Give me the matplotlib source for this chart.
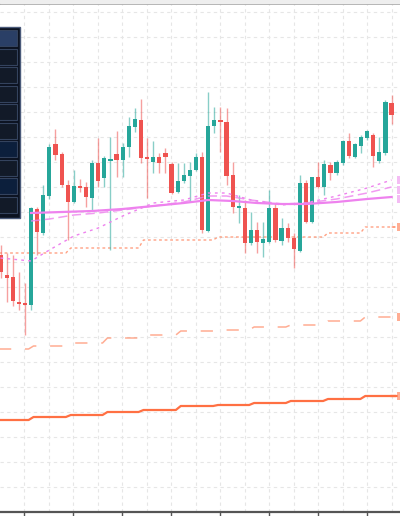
import matplotlib
matplotlib.use("Agg")
import matplotlib.pyplot as plt
from matplotlib.patches import Rectangle

# candles, in screen units (y grows downward): body top/bottom, wick top/bottom, rising?
body_top = [255, 275, 277, 302, 303, 208, 209, 195, 147, 144, 154, 185, 186, 186, 187, 163,
            163, 158, 159, 154, 147, 126, 119, 120, 157, 157, 157, 153, 164, 181, 175, 170,
            157, 157, 126, 120, 120, 122, 175, 206, 208, 230, 230, 239, 208, 208, 228, 228,
            238, 183, 183, 177, 177, 164, 165, 162, 141, 141, 144, 137, 131, 135, 152, 102, 103]
body_bot = [272, 278, 301, 304, 305, 305, 232, 233, 196, 155, 185, 202, 202, 188, 197, 198,
            181, 178, 161, 160, 160, 147, 127, 158, 159, 162, 163, 157, 193, 192, 181, 176,
            170, 230, 231, 126, 122, 176, 207, 208, 243, 243, 242, 243, 242, 240, 241, 238,
            249, 251, 222, 222, 187, 187, 173, 173, 163, 156, 157, 146, 138, 156, 161, 153, 115]
wick_top = [245, 253, 255, 272, 283, 207, 207, 185, 144, 129, 152, 180, 170, 179, 182, 160,
            138, 156, 137, 131, 143, 117, 108, 99, 138, 141, 153, 148, 162, 163, 163, 162,
            153, 152, 92, 107, 107, 108, 162, 195, 200, 212, 222, 222, 190, 203, 218, 223,
            233, 175, 180, 177, 162, 160, 162, 160, 140, 133, 143, 135, 130, 133, 137, 100, 95]
wick_bot = [278, 302, 306, 310, 335, 310, 255, 235, 199, 160, 187, 240, 203, 192, 207, 210,
            187, 187, 250, 177, 177, 157, 132, 163, 198, 173, 173, 173, 194, 193, 183, 202,
            171, 233, 232, 133, 152, 185, 213, 223, 253, 245, 253, 257, 243, 242, 245, 242,
            268, 252, 223, 223, 188, 195, 180, 175, 165, 158, 158, 153, 140, 167, 163, 155, 124]
rising = [0, 0, 0, 0, 0, 1, 0, 1, 1, 0, 0, 0, 1, 0, 0, 1,
          0, 1, 1, 0, 1, 1, 1, 0, 0, 1, 0, 0, 0, 1, 1, 1,
          1, 0, 1, 1, 0, 0, 0, 1, 0, 1, 0, 1, 1, 0, 1, 0,
          0, 1, 0, 1, 0, 1, 0, 1, 1, 0, 1, 1, 1, 0, 1, 1, 0]

# moving averages (candle index, screen y)
ma_fast_i = [5, 10, 15, 20, 25, 30, 34, 38, 42, 46, 50, 55, 60, 64]
ma_fast_y = [213, 212, 211, 209, 206, 203, 200, 201, 203, 204, 204, 202, 199, 197]
ma_mid_i = [5, 8, 12, 16, 20, 25, 30, 34, 37, 41, 46, 50, 55, 60, 64]
ma_mid_y = [221, 219, 215, 213, 210, 206, 202, 196, 196, 200, 204, 203, 199, 193, 187]
ma_slow_i = [0, 5, 8, 12, 16, 20, 25, 30, 34, 37, 41, 46, 50, 55, 60, 64]
ma_slow_y = [258, 261, 250, 236, 228, 216, 203, 200, 193, 193, 200, 205, 203, 196, 188, 180]

# stepped bands, one level per 6-candle block
step_i = [-0.5, 4.6, 10.7, 16.7, 22.6, 28.7, 34.8, 40.7, 46.7, 52.8, 58.9, 64]
band_dot = [253, 253, 248, 248, 240, 240, 237, 237, 237, 233, 227, 227]
band_dash = [349, 346, 343, 338, 335, 331, 330, 327, 325, 321, 317, 317]
band_solid = [420, 417, 415, 412, 410, 406, 405, 403, 401, 399, 396, 396]

RED, GREEN = "#ef5350", "#26a69a"
PX0, STEP = 0.5, 6.11

fig = plt.figure(figsize=(4, 5.16), dpi=100)
fig.patches.append(Rectangle((0, 1 - 3 / 516), 1, 3 / 516, transform=fig.transFigure,
                             color="#eeeeee", zorder=0))
ax = fig.add_axes([0, 4 / 516, 1, 508.5 / 516])
ax.set_xlim(0, 400)
ax.set_ylim(512, 3.5)


def px(i):
    return PX0 + STEP * i


def ramp(levels):
    # each level starts with a short slope from the previous one
    xs, ys = [], []
    for k, lv in enumerate(levels):
        start = px(step_i[k]) + (STEP * 0.8 if k else 0)
        end = px(step_i[k + 1]) if k + 1 < len(step_i) else px(step_i[k])
        xs += [start, end]
        ys += [lv, lv]
    return xs, ys


for i in range(len(body_top)):
    c = GREEN if rising[i] else RED
    x = px(i)
    ax.vlines(x, wick_top[i], wick_bot[i], color=c, alpha=0.55, lw=1, zorder=3)
    h = max(body_bot[i] - body_top[i], 1.5)
    ax.add_patch(Rectangle((x - 2.1, body_top[i]), 4.2, h, color=c, lw=0, zorder=4))

ax.plot([px(i) for i in ma_fast_i], ma_fast_y, color="#ee82ee", lw=1.6, zorder=5)
ax.plot([px(i) for i in ma_mid_i], ma_mid_y, color="#ee82ee", lw=1.1, ls=(0, (6, 3)), alpha=0.8, zorder=5)
ax.plot([px(i) for i in ma_slow_i], ma_slow_y, color="#ee82ee", lw=1, ls=(0, (2, 3)), zorder=5)

ax.plot(*ramp(band_dot), color="#ff8a65", lw=1, ls=(0, (2, 2)), alpha=0.8)
ax.plot(*ramp(band_dash), color="#ff8a65", lw=1.1, ls=(0, (8, 9)), alpha=0.7)
ax.plot(*ramp(band_solid), color="#ff7043", lw=1.6)

# price tags cut at the right edge
for y, c in [(180, "#f0a0f0"), (190, "#f0a0f0"), (199, "#f0a0f0"),
             (227, "#ff8a65"), (317, "#ff8a65"), (396, "#ff8a65")]:
    ax.add_patch(Rectangle((397, y - 4), 4, 8, color=c, alpha=0.7, lw=0, clip_on=False))

# grid
ax.set_xticks([24 + 49 * k for k in range(8)])
ax.set_xticks([48.5 + 49 * k for k in range(8)], minor=True)
ax.set_yticks([12 + 25 * k for k in range(20)])
ax.grid(True, which="both", color="#e6e6e6", ls=(0, (3, 3)), lw=0.8)
ax.set_axisbelow(True)
ax.tick_params(axis="x", which="major", length=4, width=1, color="#555555", labelbottom=False)
ax.tick_params(axis="x", which="minor", length=0)
ax.tick_params(axis="y", length=0, labelleft=False)
for s in ("left", "right"):
    ax.spines[s].set_visible(False)
ax.spines["bottom"].set_color("#555555")
ax.spines["bottom"].set_linewidth(1.6)
ax.spines["top"].set_color("#999999")
ax.spines["top"].set_linewidth(1.2)

# dark side panel
ax.add_patch(Rectangle((-2, 27), 22, 191, facecolor="#0b1220", edgecolor="#4a5a7a", lw=1, zorder=8))
row_colors = ["#2a3f66", "#121a28", "#121a28", "#121a28", "#121a28", "#121a28",
              "#0c1f3c", "#121a28", "#0c1f3c", "#121a28"]
for k, rc in enumerate(row_colors):
    ax.add_patch(Rectangle((-2, 30 + 18.5 * k), 18.5, 16, facecolor=rc, edgecolor="#34435e",
                           lw=0.8, zorder=9))

fig.savefig("out.png", dpi=100)
